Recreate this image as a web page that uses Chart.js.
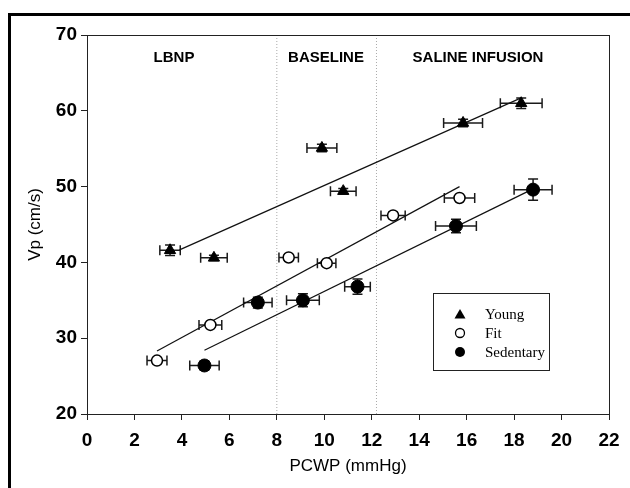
<!DOCTYPE html>
<html><head><meta charset="utf-8">
<script src="https://cdn.jsdelivr.net/npm/chart.js@4"></script>
<style>
html,body{margin:0;padding:0;background:#fff;}
#wrap{position:relative;width:630px;height:488px;overflow:hidden;background:#fff;}
#frame{position:absolute;left:8px;top:13px;width:700px;height:600px;border:3px solid #000;box-sizing:border-box;pointer-events:none;}
canvas{position:absolute;left:0;top:0;}
</style></head><body>
<div id="wrap"><canvas id="c" width="630" height="488"></canvas><div id="frame"></div></div>
<script>
// ---- data ----
const seriesNames = ['Young', 'Fit', 'Sedentary'];
const regionLabels = ['LBNP', 'BASELINE', 'SALINE INFUSION'];
const regionDividers = [8, 12.2];
const xTicks = [0, 2, 4, 6, 8, 10, 12, 14, 16, 18, 20, 22];
const yTicks = [20, 30, 40, 50, 60, 70];

const youngX    = [3.5, 5.35, 9.9, 10.8, 15.85, 18.3];
const youngY    = [41.6, 40.6, 55.1, 49.4, 58.4, 61.0];
const youngXErr = [0.43, 0.56, 0.63, 0.54, 0.82, 0.88];
const youngYErr = [0.7, 0.35, 0.5, 0.35, 0.5, 0.7];

const fitX    = [2.95, 5.2, 8.5, 10.1, 12.9, 15.7];
const fitY    = [27.05, 31.75, 40.65, 39.9, 46.2, 48.5];
const fitXErr = [0.42, 0.48, 0.41, 0.39, 0.51, 0.64];
const fitYErr = [0.3, 0.3, 0.3, 0.3, 0.4, 0.3];

const sedX    = [4.95, 7.2, 9.1, 11.4, 15.55, 18.8];
const sedY    = [26.4, 34.7, 35.0, 36.8, 44.8, 49.6];
const sedXErr = [0.62, 0.6, 0.69, 0.54, 0.86, 0.8];
const sedYErr = [0.6, 0.7, 0.85, 1.0, 0.9, 1.4];

// regression line end points [x0, y0, x1, y1]
const youngFit = [3.9, 41.65, 18.3, 61.7];
const fitFit   = [2.95, 28.3, 15.7, 50.0];
const sedFit   = [4.95, 28.4, 18.8, 49.7];

// ---- build ----
const pts = (xs, ys) => xs.map((x, i) => ({x, y: ys[i]}));
const seg = a => [{x: a[0], y: a[1]}, {x: a[2], y: a[3]}];
const errSets = [
  {xs: youngX, ys: youngY, xe: youngXErr, ye: youngYErr},
  {xs: fitX, ys: fitY, xe: fitXErr, ye: fitYErr},
  {xs: sedX, ys: sedY, xe: sedXErr, ye: sedYErr}
];
const FONT = "'Liberation Sans', Arial, sans-serif";

const lineDs = (data, extra) => Object.assign({
  type: 'line', data, borderColor: '#111', borderWidth: 1.2, pointRadius: 0,
  fill: false, showLine: true, tension: 0, order: 5
}, extra || {});

const errorBars = {
  id: 'errorBars',
  beforeDatasetsDraw(chart) {
    const {ctx, scales: {x, y}} = chart;
    ctx.save();
    ctx.strokeStyle = '#1a1a1a';
    ctx.lineWidth = 1.5;
    const cap = 5;
    errSets.forEach(s => {
      s.xs.forEach((xv, i) => {
        const px = x.getPixelForValue(xv), py = y.getPixelForValue(s.ys[i]);
        const xl = x.getPixelForValue(xv - s.xe[i]), xr = x.getPixelForValue(xv + s.xe[i]);
        const yt = y.getPixelForValue(s.ys[i] + s.ye[i]), yb = y.getPixelForValue(s.ys[i] - s.ye[i]);
        ctx.beginPath();
        ctx.moveTo(xl, py); ctx.lineTo(xr, py);
        ctx.moveTo(xl, py - cap); ctx.lineTo(xl, py + cap);
        ctx.moveTo(xr, py - cap); ctx.lineTo(xr, py + cap);
        ctx.moveTo(px, yt); ctx.lineTo(px, yb);
        ctx.moveTo(px - cap, yt); ctx.lineTo(px + cap, yt);
        ctx.moveTo(px - cap, yb); ctx.lineTo(px + cap, yb);
        ctx.stroke();
      });
    });
    ctx.restore();
  }
};

const decor = {
  id: 'decor',
  afterDraw(chart) {
    const {ctx, chartArea: a} = chart;
    ctx.save();
    // plot frame
    ctx.strokeStyle = '#222';
    ctx.lineWidth = 1;
    ctx.strokeRect(a.left + 0.5, a.top + 0.5, a.right - a.left, a.bottom - a.top);
    // region labels
    ctx.fillStyle = '#000';
    ctx.font = "bold 15px " + FONT;
    ctx.textAlign = 'center';
    ctx.textBaseline = 'middle';
    const rx = [174, 326, 478];
    regionLabels.forEach((t, i) => ctx.fillText(t, rx[i], 58));
    // legend
    const L = 433, T = 293, W = 116, H = 77;
    ctx.strokeStyle = '#222';
    ctx.strokeRect(L + 0.5, T + 0.5, W, H);
    ctx.font = "15px 'Liberation Serif', 'Times New Roman', serif";
    ctx.textAlign = 'left';
    const rows = [314, 333, 352];
    seriesNames.forEach((n, i) => {
      const cy = rows[i], cx = 460;
      ctx.fillStyle = '#000';
      ctx.strokeStyle = '#000';
      ctx.lineWidth = 1.3;
      ctx.beginPath();
      if (i === 0) {
        ctx.moveTo(cx, cy - 5); ctx.lineTo(cx + 5.5, cy + 4.5); ctx.lineTo(cx - 5.5, cy + 4.5); ctx.closePath();
        ctx.fill();
      } else if (i === 1) {
        ctx.arc(cx, cy, 4.5, 0, Math.PI * 2);
        ctx.fillStyle = '#fff'; ctx.fill(); ctx.stroke();
      } else {
        ctx.arc(cx, cy, 5, 0, Math.PI * 2); ctx.fill();
      }
      ctx.fillStyle = '#000';
      ctx.fillText(n, 485, cy + 1);
    });
    ctx.restore();
  }
};

new Chart(document.getElementById('c'), {
  type: 'scatter',
  data: {
    datasets: [
      {label: seriesNames[0], data: pts(youngX, youngY), pointStyle: 'triangle', pointRadius: 6.5,
       backgroundColor: '#000', borderColor: '#000', borderWidth: 1, order: 1},
      {label: seriesNames[1], data: pts(fitX, fitY), pointStyle: 'circle', pointRadius: 5.5,
       backgroundColor: '#fff', borderColor: '#000', borderWidth: 1.5, order: 1},
      {label: seriesNames[2], data: pts(sedX, sedY), pointStyle: 'circle', pointRadius: 6.5,
       backgroundColor: '#000', borderColor: '#000', borderWidth: 1, order: 1},
      lineDs(seg(youngFit)),
      lineDs(seg(fitFit)),
      lineDs(seg(sedFit)),
      lineDs([{x: regionDividers[0], y: 20}, {x: regionDividers[0], y: 70}], {borderColor: '#aaa', borderWidth: 1, borderDash: [1, 2], order: 9}),
      lineDs([{x: regionDividers[1], y: 20}, {x: regionDividers[1], y: 70}], {borderColor: '#aaa', borderWidth: 1, borderDash: [1, 2], order: 9})
    ]
  },
  options: {
    responsive: false, animation: false, devicePixelRatio: 1,
    layout: {padding: {top: 35, right: 21, left: 0, bottom: 0}},
    plugins: {legend: {display: false}, tooltip: {enabled: false}},
    scales: {
      x: {
        type: 'linear', min: 0, max: 22,
        afterBuildTicks: s => { s.ticks = xTicks.map(v => ({value: v})); },
        afterFit: s => { s.height = 74; },
        ticks: {color: '#000', font: {family: FONT, size: 19, weight: 'bold'}, padding: 9, maxRotation: 0, autoSkip: false},
        grid: {drawOnChartArea: false, drawTicks: true, tickLength: 6, color: '#222'},
        border: {display: true, color: '#222', width: 1},
        title: {display: true, text: 'PCWP (mmHg)', color: '#000', font: {family: FONT, size: 17}, padding: {top: 0, bottom: 11}}
      },
      y: {
        type: 'linear', min: 20, max: 70,
        afterBuildTicks: s => { s.ticks = yTicks.map(v => ({value: v})); },
        afterFit: s => { s.width = 87; },
        ticks: {color: '#000', font: {family: FONT, size: 19, weight: 'bold'}, padding: 4},
        grid: {drawOnChartArea: false, drawTicks: true, tickLength: 6, color: '#222'},
        border: {display: true, color: '#222', width: 1},
        title: {display: true, text: 'Vp (cm/s)', color: '#000', font: {family: FONT, size: 17}, padding: {top: 25, bottom: 0}}
      }
    }
  },
  plugins: [errorBars, decor]
});
</script>
</body></html>
